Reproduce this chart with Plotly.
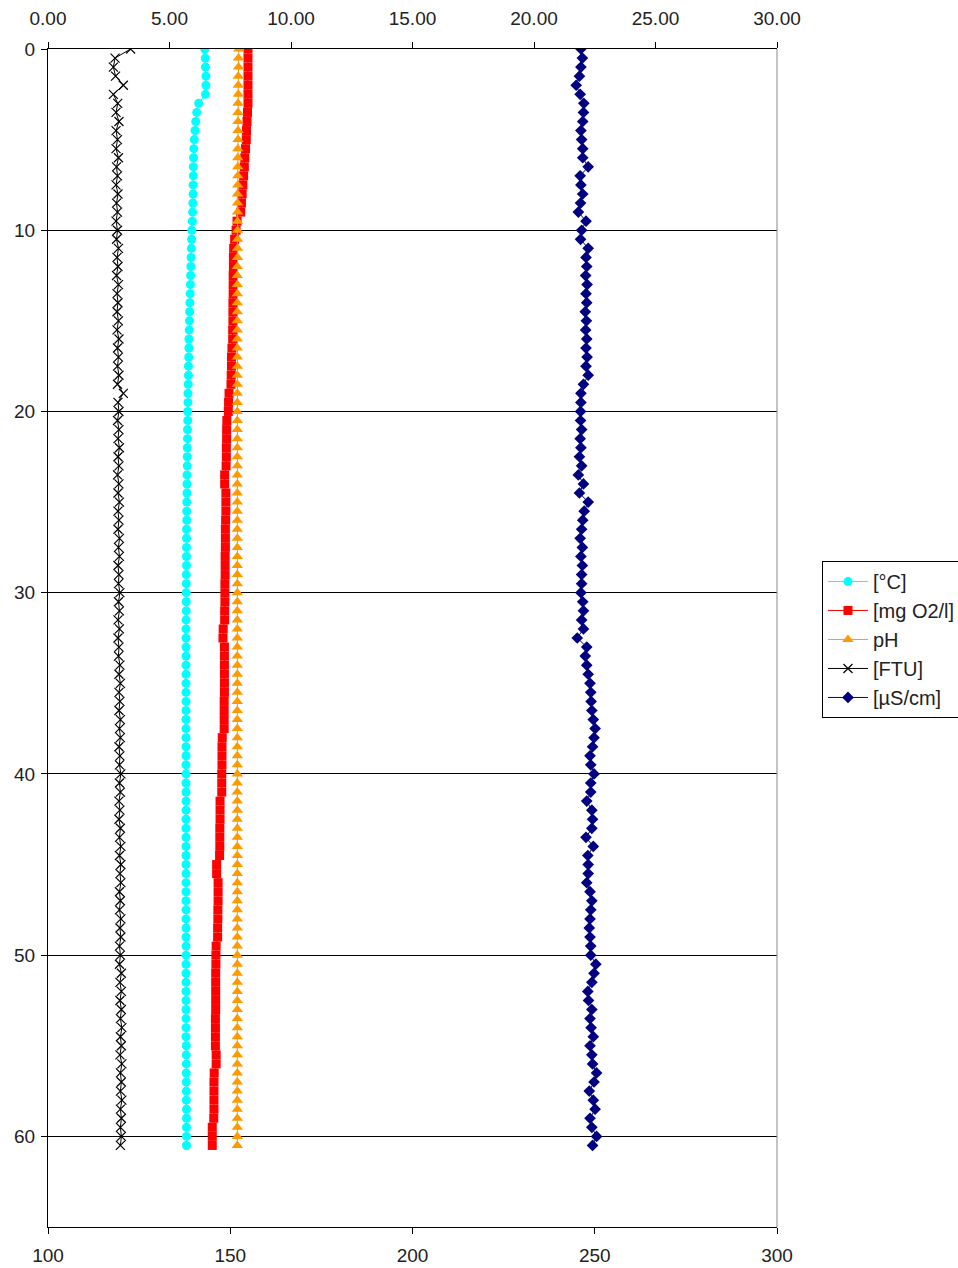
import plotly.graph_objects as go

depth = [
    0.0, 0.5, 1.0, 1.5, 2.0, 2.5, 3.0, 3.5, 4.0, 4.5,
    5.0, 5.5, 6.0, 6.5, 7.0, 7.5, 8.0, 8.5, 9.0, 9.5,
    10.0, 10.5, 11.0, 11.5, 12.0, 12.5, 13.0, 13.5, 14.0, 14.5,
    15.0, 15.5, 16.0, 16.5, 17.0, 17.5, 18.0, 18.5, 19.0, 19.5,
    20.0, 20.5, 21.0, 21.5, 22.0, 22.5, 23.0, 23.5, 24.0, 24.5,
    25.0, 25.5, 26.0, 26.5, 27.0, 27.5, 28.0, 28.5, 29.0, 29.5,
    30.0, 30.5, 31.0, 31.5, 32.0, 32.5, 33.0, 33.5, 34.0, 34.5,
    35.0, 35.5, 36.0, 36.5, 37.0, 37.5, 38.0, 38.5, 39.0, 39.5,
    40.0, 40.5, 41.0, 41.5, 42.0, 42.5, 43.0, 43.5, 44.0, 44.5,
    45.0, 45.5, 46.0, 46.5, 47.0, 47.5, 48.0, 48.5, 49.0, 49.5,
    50.0, 50.5, 51.0, 51.5, 52.0, 52.5, 53.0, 53.5, 54.0, 54.5,
    55.0, 55.5, 56.0, 56.5, 57.0, 57.5, 58.0, 58.5, 59.0, 59.5,
    60.0, 60.5,
]

temp_c = [
    6.45, 6.47, 6.48, 6.50, 6.50, 6.48, 6.20, 6.12, 6.08, 6.05,
    6.02, 6.00, 5.99, 5.98, 5.98, 5.97, 5.97, 5.96, 5.95, 5.94,
    5.92, 5.91, 5.90, 5.89, 5.88, 5.87, 5.86, 5.85, 5.84, 5.83,
    5.82, 5.81, 5.80, 5.80, 5.79, 5.78, 5.78, 5.77, 5.76, 5.76,
    5.75, 5.75, 5.74, 5.74, 5.73, 5.73, 5.73, 5.72, 5.72, 5.72,
    5.71, 5.71, 5.71, 5.70, 5.70, 5.70, 5.70, 5.70, 5.69, 5.69,
    5.69, 5.69, 5.69, 5.68, 5.68, 5.68, 5.68, 5.68, 5.68, 5.68,
    5.68, 5.68, 5.68, 5.68, 5.68, 5.68, 5.68, 5.68, 5.68, 5.68,
    5.68, 5.68, 5.68, 5.68, 5.68, 5.68, 5.68, 5.68, 5.68, 5.68,
    5.68, 5.68, 5.68, 5.68, 5.68, 5.68, 5.68, 5.68, 5.68, 5.68,
    5.68, 5.68, 5.68, 5.68, 5.68, 5.68, 5.68, 5.68, 5.68, 5.68,
    5.69, 5.69, 5.69, 5.69, 5.69, 5.69, 5.69, 5.70, 5.70, 5.70,
    5.70, 5.70,
]

oxygen = [
    8.23, 8.23, 8.23, 8.23, 8.23, 8.23, 8.23, 8.21, 8.19, 8.17,
    8.16, 8.13, 8.10, 8.08, 8.05, 8.02, 7.99, 7.96, 7.93, 7.78,
    7.74, 7.68, 7.64, 7.63, 7.63, 7.62, 7.62, 7.62, 7.61, 7.61,
    7.61, 7.60, 7.60, 7.57, 7.55, 7.55, 7.54, 7.53, 7.45, 7.43,
    7.42, 7.36, 7.35, 7.35, 7.34, 7.34, 7.33, 7.27, 7.27, 7.32,
    7.32, 7.32, 7.31, 7.30, 7.30, 7.30, 7.29, 7.29, 7.29, 7.28,
    7.28, 7.28, 7.27, 7.27, 7.21, 7.20, 7.26, 7.26, 7.26, 7.26,
    7.26, 7.26, 7.25, 7.25, 7.25, 7.25, 7.17, 7.16, 7.16, 7.16,
    7.15, 7.15, 7.15, 7.08, 7.08, 7.08, 7.07, 7.07, 7.07, 7.06,
    6.94, 6.94, 7.00, 7.00, 7.00, 6.99, 6.99, 6.98, 6.98, 6.92,
    6.91, 6.91, 6.90, 6.90, 6.90, 6.90, 6.90, 6.89, 6.89, 6.89,
    6.89, 6.92, 6.92, 6.84, 6.83, 6.83, 6.83, 6.83, 6.82, 6.76,
    6.76, 6.76,
]

ph = [
    7.85, 7.84, 7.84, 7.83, 7.83, 7.83, 7.82, 7.82, 7.82, 7.82,
    7.82, 7.81, 7.81, 7.81, 7.81, 7.81, 7.80, 7.80, 7.80, 7.80,
    7.80, 7.80, 7.80, 7.80, 7.79, 7.79, 7.79, 7.79, 7.79, 7.79,
    7.79, 7.79, 7.79, 7.79, 7.79, 7.79, 7.79, 7.79, 7.79, 7.79,
    7.79, 7.79, 7.79, 7.79, 7.79, 7.79, 7.79, 7.79, 7.79, 7.79,
    7.79, 7.79, 7.79, 7.79, 7.79, 7.79, 7.79, 7.79, 7.79, 7.79,
    7.79, 7.79, 7.79, 7.79, 7.79, 7.79, 7.79, 7.79, 7.79, 7.79,
    7.79, 7.79, 7.79, 7.79, 7.79, 7.79, 7.79, 7.79, 7.79, 7.79,
    7.79, 7.79, 7.79, 7.79, 7.79, 7.79, 7.79, 7.79, 7.79, 7.79,
    7.79, 7.79, 7.79, 7.79, 7.79, 7.79, 7.79, 7.79, 7.79, 7.79,
    7.79, 7.79, 7.79, 7.79, 7.79, 7.79, 7.79, 7.79, 7.79, 7.79,
    7.79, 7.79, 7.79, 7.79, 7.79, 7.79, 7.79, 7.79, 7.79, 7.79,
    7.79, 7.79,
]

turbidity = [
    3.40, 2.76, 2.69, 2.78, 3.10, 2.69, 2.87, 2.80, 2.92, 2.80,
    2.86, 2.80, 2.90, 2.82, 2.86, 2.80, 2.88, 2.82, 2.86, 2.80,
    2.86, 2.82, 2.90, 2.84, 2.88, 2.82, 2.90, 2.84, 2.88, 2.84,
    2.90, 2.84, 2.92, 2.86, 2.90, 2.86, 2.92, 2.86, 3.10, 2.88,
    2.92, 2.86, 2.92, 2.88, 2.94, 2.88, 2.92, 2.86, 2.92, 2.88,
    2.94, 2.88, 2.92, 2.88, 2.94, 2.90, 2.94, 2.88, 2.92, 2.90,
    2.96, 2.90, 2.94, 2.88, 2.94, 2.88, 2.92, 2.90, 2.96, 2.92,
    2.98, 2.92, 2.96, 2.92, 2.98, 2.94, 2.98, 2.92, 2.96, 2.94,
    3.00, 2.94, 2.98, 2.92, 2.96, 2.92, 2.98, 2.94, 3.00, 2.94,
    3.00, 2.96, 3.00, 2.94, 2.98, 2.94, 3.00, 2.96, 3.00, 2.94,
    2.98, 2.94, 3.02, 2.96, 3.02, 2.96, 3.02, 2.98, 3.04, 2.98,
    3.02, 2.96, 3.04, 2.98, 3.02, 2.98, 3.04, 2.98, 3.02, 2.98,
    3.02, 2.98,
]

conductivity = [
    246.2, 246.6, 246.2, 245.8, 244.9, 246.0, 247.0, 246.9, 246.7, 246.2,
    246.4, 246.7, 246.7, 248.2, 246.0, 246.2, 246.7, 246.1, 245.5, 247.6,
    246.4, 246.1, 248.2, 247.6, 247.8, 247.5, 247.9, 247.6, 247.8, 247.4,
    247.7, 247.5, 247.8, 247.6, 247.9, 247.6, 248.2, 246.9, 246.2, 246.2,
    246.1, 246.1, 246.4, 246.0, 246.2, 245.8, 246.4, 245.5, 246.9, 245.8,
    248.2, 247.1, 246.7, 246.4, 246.0, 246.6, 246.2, 246.6, 246.4, 246.4,
    246.2, 246.7, 246.9, 246.4, 246.9, 245.2, 247.8, 247.4, 247.8, 248.2,
    248.7, 248.9, 249.0, 249.2, 249.6, 250.1, 249.8, 249.4, 248.7, 248.9,
    249.8, 248.9, 248.9, 247.8, 249.2, 249.4, 249.2, 247.6, 249.6, 248.1,
    248.2, 248.2, 247.8, 248.7, 249.2, 248.9, 248.7, 248.5, 248.7, 248.9,
    248.9, 250.3, 249.8, 249.2, 248.1, 248.3, 249.2, 248.7, 249.0, 249.6,
    248.7, 249.2, 249.4, 250.5, 249.8, 248.5, 249.6, 250.1, 248.7, 249.2,
    250.5, 249.4,
]

series_names = ["[°C]", "[mg O2/l]", "pH", "[FTU]", "[µS/cm]"]
top_ticks = [0, 5, 10, 15, 20, 25, 30]
bottom_ticks = [100, 150, 200, 250, 300]
depth_ticks = [0, 10, 20, 30, 40, 50, 60]

FONT = "Liberation Sans, Arial, sans-serif"
TXT = "#222222"
TICKFONT = dict(family=FONT, size=19, color=TXT)

fig = go.Figure()

fig.add_trace(go.Scatter(
    x=temp_c, y=depth, name=series_names[0], xaxis="x2", yaxis="y",
    mode="lines+markers",
    line=dict(color="#00FFFF", width=1),
    marker=dict(symbol="circle", size=9, color="#00FFFF"),
))
fig.add_trace(go.Scatter(
    x=oxygen, y=depth, name=series_names[1], xaxis="x2", yaxis="y",
    mode="lines+markers",
    line=dict(color="#FF0000", width=1),
    marker=dict(symbol="square", size=9, color="#FF0000"),
))
fig.add_trace(go.Scatter(
    x=ph, y=depth, name=series_names[2], xaxis="x2", yaxis="y",
    mode="lines+markers",
    line=dict(color="#FF9900", width=1),
    marker=dict(symbol="triangle-up", size=10, color="#FF9900"),
))
fig.add_trace(go.Scatter(
    x=turbidity, y=depth, name=series_names[3], xaxis="x2", yaxis="y",
    mode="lines+markers",
    line=dict(color="#000000", width=1),
    marker=dict(symbol="x-thin", size=9, color="#000000",
                line=dict(color="#000000", width=1.2)),
))
fig.add_trace(go.Scatter(
    x=conductivity, y=depth, name=series_names[4], xaxis="x", yaxis="y",
    mode="lines+markers",
    line=dict(color="#000080", width=1),
    marker=dict(symbol="diamond", size=9, color="#000080"),
))

fig.update_layout(
    width=958, height=1268,
    margin=dict(l=48, r=181, t=49, b=41, autoexpand=False),
    paper_bgcolor="white", plot_bgcolor="white",
    font=dict(family=FONT, size=19, color=TXT),
    showlegend=True,
    legend=dict(
        x=1.0617, y=0.5654, xanchor="left", yanchor="top",
        bgcolor="white", bordercolor="#000000", borderwidth=1,
        font=dict(family=FONT, size=20, color=TXT),
        tracegroupgap=0, itemwidth=40,
    ),
    xaxis=dict(
        range=[100, 300], tickvals=bottom_ticks, side="bottom",
        showline=True, linecolor="#000000", linewidth=1,
        ticks="outside", ticklen=6, tickcolor="#000000",
        showgrid=False, zeroline=False, anchor="y", automargin=False,
        ticklabelstandoff=5,
        tickfont=TICKFONT,
    ),
    xaxis2=dict(
        range=[0, 30], tickvals=top_ticks, tickformat=".2f", side="top",
        overlaying="x", anchor="y", automargin=False,
        showline=True, linecolor="#000000", linewidth=1,
        ticks="outside", ticklen=6, tickcolor="#000000",
        showgrid=False, zeroline=False,
        ticklabelstandoff=9,
        tickfont=TICKFONT,
    ),
    yaxis=dict(
        range=[65, 0], tickvals=depth_ticks, automargin=False,
        showline=True, linecolor="#000000", linewidth=1,
        ticks="outside", ticklen=6, tickcolor="#000000",
        showgrid=True, gridcolor="#000000", gridwidth=1,
        zeroline=False, ticklabelstandoff=2,
        tickfont=TICKFONT,
    ),
    shapes=[dict(type="line", xref="paper", yref="paper",
                 x0=1, x1=1, y0=0, y1=1,
                 line=dict(color="#888888", width=1))],
)

fig.write_html(
    "out.html",
    config={"displayModeBar": False},
    post_script="document.body.style.margin='0';document.body.style.overflow='hidden';",
)
